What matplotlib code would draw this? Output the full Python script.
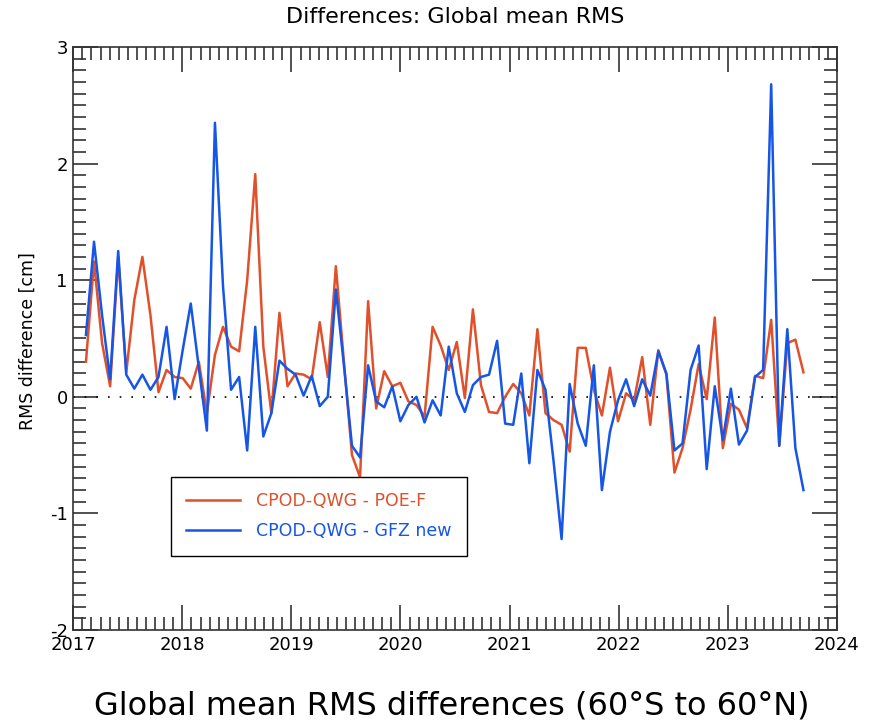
import numpy as np
import matplotlib.pyplot as plt
from matplotlib.ticker import MultipleLocator

plt.rcParams["axes.unicode_minus"] = False

# one value per 27-day cycle, first cycle mid-February 2017
first_cycle = 2017.116
cycle_days = 27.0

poe_f = [0.30, 1.16, 0.46, 0.09, 1.20, 0.21, 0.83, 1.20, 0.70, 0.04,
         0.23, 0.17, 0.16, 0.07, 0.30, -0.14, 0.36, 0.60, 0.43, 0.39,
         1.00, 1.91, 0.43, -0.14, 0.72, 0.09, 0.20, 0.19, 0.15, 0.64,
         0.17, 1.12, 0.30, -0.50, -0.69, 0.82, -0.10, 0.22, 0.09, 0.12,
         -0.04, -0.07, -0.17, 0.60, 0.44, 0.23, 0.47, -0.01, 0.75, 0.10,
         -0.13, -0.14, 0.00, 0.11, 0.03, -0.16, 0.58, -0.14, -0.20, -0.24,
         -0.47, 0.42, 0.42, 0.06, -0.16, 0.25, -0.21, 0.03, -0.03, 0.34,
         -0.24, 0.40, 0.19, -0.65, -0.44, -0.11, 0.28, -0.02, 0.68, -0.44,
         -0.06, -0.11, -0.27, 0.18, 0.16, 0.66, -0.42, 0.46, 0.49, 0.21]

gfz_new = [0.53, 1.33, 0.70, 0.15, 1.25, 0.19, 0.07, 0.19, 0.06, 0.17,
           0.60, -0.02, 0.40, 0.80, 0.25, -0.29, 2.35, 0.95, 0.06, 0.17,
           -0.46, 0.60, -0.34, -0.14, 0.31, 0.24, 0.19, 0.01, 0.18, -0.08,
           0.00, 0.92, 0.27, -0.42, -0.52, 0.27, -0.04, -0.09, 0.09, -0.21,
           -0.07, 0.00, -0.22, -0.03, -0.16, 0.43, 0.03, -0.13, 0.10, 0.17,
           0.19, 0.48, -0.23, -0.24, 0.20, -0.57, 0.23, 0.06, -0.55, -1.22,
           0.11, -0.23, -0.42, 0.27, -0.80, -0.30, -0.03, 0.15, -0.08, 0.15,
           0.01, 0.39, 0.20, -0.46, -0.40, 0.23, 0.44, -0.62, 0.09, -0.37,
           0.07, -0.41, -0.29, 0.17, 0.23, 2.68, -0.42, 0.58, -0.44, -0.80]

labels = ["CPOD-QWG - POE-F", "CPOD-QWG - GFZ new"]
colors = ["#e0502a", "#1656e6"]

t = first_cycle + np.arange(len(poe_f)) * cycle_days / 365.25

fig = plt.figure(figsize=(8.75, 7.25), dpi=100)
ax = fig.add_axes([73.3 / 875, 1 - 630 / 725, 763.4 / 875, 583 / 725])

ax.axhline(0, color="black", lw=1.2, ls=(0, (1, 6)))
for vals, lab, col in zip([poe_f, gfz_new], labels, colors):
    ax.plot(t, vals, color=col, lw=1.8, label=lab)

ax.set_xlim(2017, 2024)
ax.set_ylim(-2, 3)
ax.xaxis.set_major_locator(MultipleLocator(1))
ax.xaxis.set_minor_locator(MultipleLocator(1 / 12))
ax.yaxis.set_major_locator(MultipleLocator(1))
ax.yaxis.set_minor_locator(MultipleLocator(0.1))
ax.tick_params(which="both", direction="in", top=True, right=True,
               labelsize=13, color="#333333", width=1.2)
ax.tick_params(which="major", length=18, pad=4)
ax.tick_params(which="minor", length=9.5)
for s in ax.spines.values():
    s.set_linewidth(1.2)
    s.set_color("#333333")

leg = ax.legend(loc="lower left", bbox_to_anchor=(0.1276, 0.127), fontsize=12.5,
                labelcolor="linecolor", fancybox=False, framealpha=1,
                edgecolor="black", handlelength=3.1, handletextpad=0.9,
                borderpad=0.9, labelspacing=0.7, borderaxespad=0)
leg.get_frame().set_linewidth(1.0)

fig.text(455 / 875, 1 - 17 / 725, "Differences: Global mean RMS",
         ha="center", va="center", fontsize=16)
fig.text(28 / 875, 1 - 341 / 725, "RMS difference [cm]", rotation=90,
         ha="center", va="center", fontsize=12.5)
fig.text(452 / 875, 1 - 706 / 725, "Global mean RMS differences (60°S to 60°N)",
         ha="center", va="center", fontsize=23)

fig.savefig("out.png", dpi=100)
